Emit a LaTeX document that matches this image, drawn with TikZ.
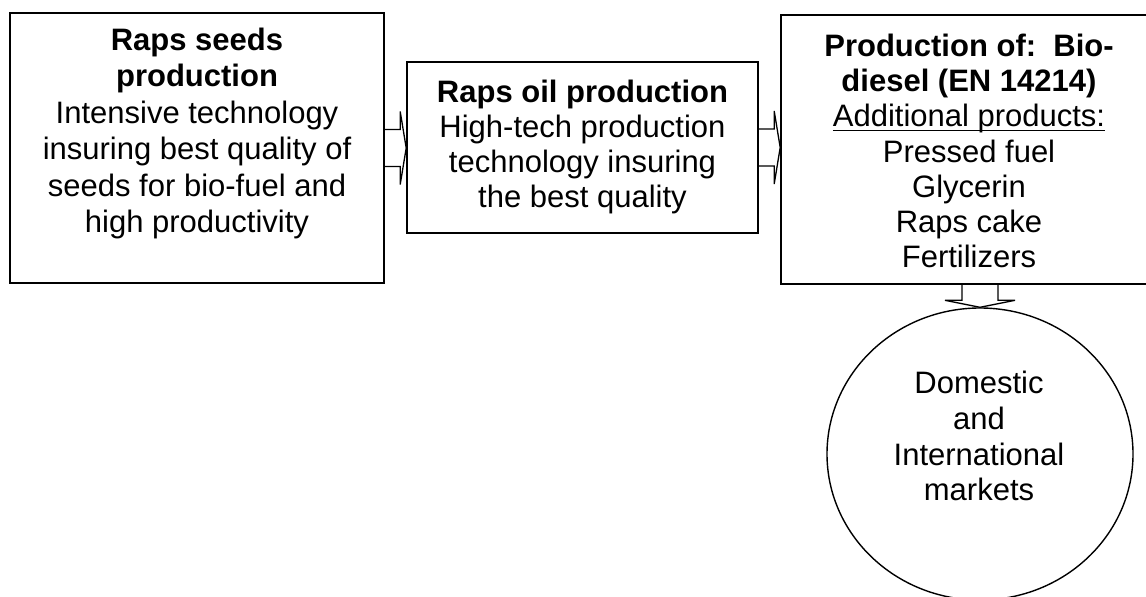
\documentclass[tikz,border=0pt]{standalone}
\usepackage{fontspec}
\setmainfont{Liberation Sans}
\usetikzlibrary{calc,shapes.geometric}
\newcommand\myul[1]{\setbox0\hbox{#1}\rlap{\rule[-4.2pt]{\wd0}{1.5pt}}\box0}
\tikzset{
  box/.style={draw=black, line width=1.6pt, rectangle, inner sep=0pt},
  ring/.style={draw=black, line width=1.4pt, ellipse, inner sep=0pt},
  barrow/.style={draw=black, line width=1.3pt, line join=miter},
}
\begin{document}
\begin{tikzpicture}[x=1pt,y=-1pt]
\clip (0,0) rectangle (1146,597);
\fill[white] (0,0) rectangle (1146,597);
% boxes
\node[box, minimum width=374pt, minimum height=270pt] (b1) at (197,148) {};
\node[box, minimum width=351pt, minimum height=171pt] (b2) at (582.5,147.5) {};
\node[box, minimum width=376pt, minimum height=269pt] (b3) at (969,149.5) {};
\node[ring, minimum width=306pt, minimum height=292pt] (c) at (980,454) {};
% texts
\node[anchor=north, align=center, inner sep=0pt, font=\fontsize{31}{36.4}\selectfont] (t1) at (197,27.8)
  {\textbf{Raps seeds}\\\textbf{production}\\Intensive technology\\insuring best quality of\\seeds for bio-fuel and\\high productivity};
\node[anchor=north, align=center, inner sep=0pt, font=\fontsize{31}{35}\selectfont] (t2) at (582.5,79.8)
  {\textbf{Raps oil production}\\High-tech production\\technology insuring\\the best quality};
\node[anchor=north, align=center, inner sep=0pt, font=\fontsize{31}{35.2}\selectfont] (t3) at (969,33.8)
  {\textbf{Production of:\ \ Bio-}\\\textbf{diesel (EN 14214)}\\\myul{Additional products:}\\Pressed fuel\\Glycerin\\Raps cake\\Fertilizers};
\node[anchor=north, align=center, inner sep=0pt, font=\fontsize{31}{35.7}\selectfont] (t4) at (979,371)
  {Domestic\\and\\International\\markets};
% block arrows
\draw[barrow] let \p1=(b1.east), \p2=(b2.west) in
  (\x1,\y1+18.5pt) -- (\x2-6pt,\y1+18.5pt) -- (\x2-6pt,\y1+36.5pt) -- (\x2,\y1)
  -- (\x2-6pt,\y1-36.5pt) -- (\x2-6pt,\y1-18.5pt) -- (\x1,\y1-18.5pt);
\draw[barrow] let \p1=(b2.east), \p2=(b3.west) in
  (\x1,\y1+18.5pt) -- (\x2-6pt,\y1+18.5pt) -- (\x2-6pt,\y1+36.5pt) -- (\x2,\y1)
  -- (\x2-6pt,\y1-36.5pt) -- (\x2-6pt,\y1-18.5pt) -- (\x1,\y1-18.5pt);
\draw[barrow] let \p1=(c.north), \p2=(b3.south) in
  (\x1-18pt,\y2) -- (\x1-18pt,\y1+7pt) -- (\x1-35pt,\y1+7pt) -- (\x1,\y1)
  -- (\x1+35pt,\y1+7pt) -- (\x1+18pt,\y1+7pt) -- (\x1+18pt,\y2);
\end{tikzpicture}
\end{document}
